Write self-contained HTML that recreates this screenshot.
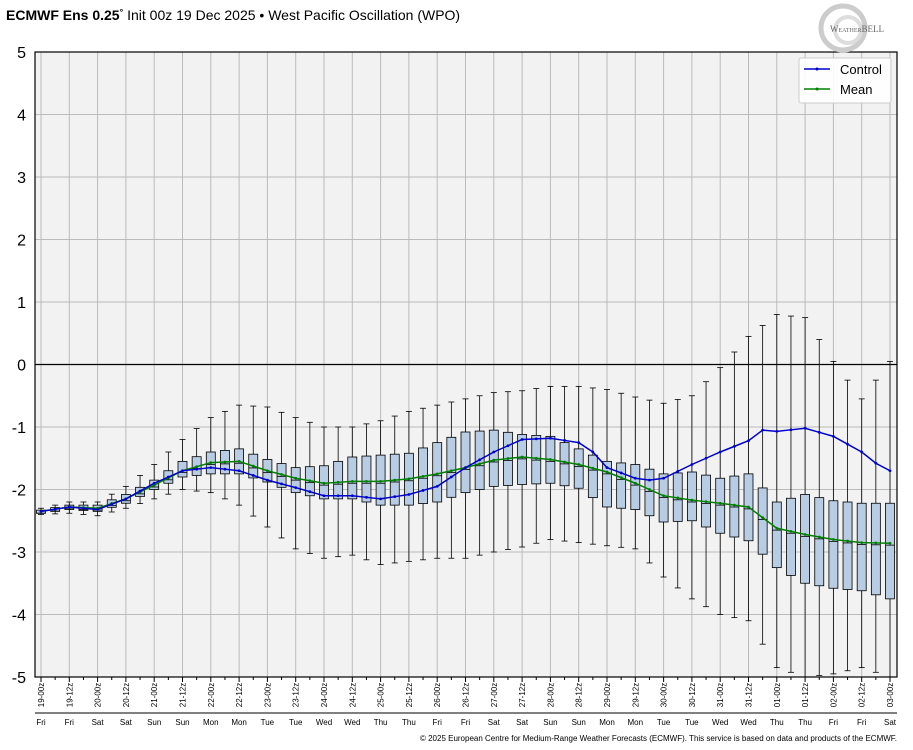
<!DOCTYPE html>
<html><head><meta charset="utf-8"><style>
body{margin:0;background:#fff;}
svg{display:block;font-family:"Liberation Sans",sans-serif;}
</style></head><body>
<svg id="s" width="913" height="750" xmlns="http://www.w3.org/2000/svg"></svg>
<script>
const S=document.getElementById('s');
let h='';
const L=35,R=897,T=52,B=677;
const X=i=>41+i*14.15, Y=v=>364.5-v*62.5;
h+=`<text x="6" y="20" font-size="14" font-weight="bold">ECMWF Ens 0.25<tspan font-size="9" dy="-5">°</tspan><tspan dy="5" font-weight="normal"> Init 00z 19 Dec 2025 • West Pacific Oscillation (WPO)</tspan></text>`;
h+=`<rect x="${L}" y="${T}" width="${R-L}" height="${B-T}" fill="#f2f2f2" stroke="none"/>`;
for(let v=-5;v<=5;v++){h+=`<line x1="${L}" x2="${R}" y1="${Y(v)}" y2="${Y(v)}" stroke="#bbb" stroke-width="1"/>`;
h+=`<text x="26" y="${Y(v)+6}" font-size="16" text-anchor="end">${v}</text>`;}
const days=['Fri','Sat','Sun','Mon','Tue','Wed','Thu','Fri','Sat','Sun','Mon','Tue','Wed','Thu','Fri','Sat'];
const dn=[19,20,21,22,23,24,25,26,27,28,29,30,31,1,2,3];
for(let k=0;k<=30;k++){const x=X(2*k);
h+=`<line x1="${x}" x2="${x}" y1="${T}" y2="${B}" stroke="#bbb"/>`;
h+=`<line x1="${x}" x2="${x}" y1="${B}" y2="${B+5}" stroke="#000"/>`;
if(k<30)h+=`<line x1="${X(2*k+1)}" x2="${X(2*k+1)}" y1="${B}" y2="${B+3}" stroke="#000"/>`;
const d=dn[Math.floor(k/2)];const lab=String(d).padStart(2,'0')+'-'+(k%2?'12':'00')+'z';
h+=`<text transform="translate(${x+3},695) rotate(-90)" font-size="8" text-anchor="middle">${lab}</text>`;
h+=`<text x="${x}" y="725" font-size="8" text-anchor="middle">${days[Math.floor(k/2)]}</text>`;}
h+=`<line x1="${L}" x2="${R}" y1="713" y2="713" stroke="#000"/>`;
h+=`<line x1="${L}" x2="${R}" y1="${Y(0)}" y2="${Y(0)}" stroke="#000" stroke-width="1.2"/>`;
const q3=[-2.33,-2.25,-2.25,-2.08,-1.85,-1.55,-1.4,-1.35,-1.52,-1.65,-1.62,-1.48,-1.45,-1.42,-1.25,-1.08,-1.05,-1.12,-1.15,-1.35,-1.55,-1.6,-1.75,-1.72,-1.82,-1.75,-2.2,-2.08,-2.18,-2.22,-2.22];
const q1=[-2.38,-2.32,-2.35,-2.22,-2.0,-1.8,-1.75,-1.75,-1.88,-2.05,-2.15,-2.15,-2.25,-2.25,-2.2,-2.05,-1.95,-1.92,-1.9,-1.98,-2.28,-2.32,-2.52,-2.5,-2.7,-2.82,-3.25,-3.5,-3.58,-3.62,-3.75];
const mx=[-2.3,-2.2,-2.2,-1.95,-1.6,-1.2,-0.85,-0.65,-0.68,-0.85,-1.0,-1.0,-0.9,-0.75,-0.65,-0.55,-0.45,-0.42,-0.35,-0.35,-0.4,-0.52,-0.62,-0.5,-0.05,0.45,0.8,0.75,0.05,-0.55,0.05];
const mn=[-2.4,-2.38,-2.42,-2.3,-2.15,-2.0,-2.05,-2.25,-2.6,-2.95,-3.1,-3.05,-3.2,-3.15,-3.1,-3.1,-3.0,-2.92,-2.8,-2.85,-2.9,-2.95,-3.4,-3.75,-4.0,-4.1,-4.85,-5,-4.95,-4.85,-5];
const me=[-2.35,-2.28,-2.3,-2.15,-1.93,-1.7,-1.57,-1.55,-1.7,-1.82,-1.9,-1.87,-1.87,-1.83,-1.75,-1.65,-1.53,-1.48,-1.52,-1.6,-1.72,-1.9,-2.1,-2.17,-2.22,-2.28,-2.62,-2.72,-2.8,-2.85,-2.86];
const co=[-2.35,-2.28,-2.32,-2.15,-1.9,-1.7,-1.65,-1.7,-1.85,-1.97,-2.1,-2.1,-2.15,-2.08,-1.95,-1.65,-1.4,-1.2,-1.18,-1.25,-1.65,-1.82,-1.82,-1.6,-1.4,-1.22,-1.07,-1.02,-1.15,-1.4,-1.7];
const I=(a,i)=>i%2?(a[(i-1)/2]+a[(i+1)/2])/2:a[i/2];
const ov={39:-1.4,43:-1.85,51:-1.05,59:-1.58};
const cp=[],mp=[];
for(let i=0;i<=60;i++){const x=X(i);
const a=I(mx,i),b=I(mn,i),c=I(q3,i),d=I(q1,i),m=I(me,i);
h+=`<line x1="${x}" x2="${x}" y1="${Y(a)}" y2="${Y(b)}" stroke="#000" stroke-width="0.8"/>`;
h+=`<line x1="${x-3}" x2="${x+3}" y1="${Y(a)}" y2="${Y(a)}" stroke="#000" stroke-width="0.8"/>`;
h+=`<line x1="${x-3}" x2="${x+3}" y1="${Y(b)}" y2="${Y(b)}" stroke="#000" stroke-width="0.8"/>`;
h+=`<rect x="${x-4.5}" y="${Y(c)}" width="9" height="${Math.max(1,Y(d)-Y(c))}" fill="#b8cce4" stroke="#000" stroke-width="0.8"/>`;
h+=`<line x1="${x-4.5}" x2="${x+4.5}" y1="${Y(m-0.03)}" y2="${Y(m-0.03)}" stroke="#000" stroke-width="0.8"/>`;
cp.push(x+','+Y(ov[i]!==undefined?ov[i]:I(co,i)));mp.push(x+','+Y(m));}
h+=`<polyline points="${mp.join(' ')}" fill="none" stroke="#008000" stroke-width="1.5"/>`;
h+=`<polyline points="${cp.join(' ')}" fill="none" stroke="#0000cc" stroke-width="1.5"/>`;
mp.forEach(p=>{const[x,y]=p.split(',');h+=`<circle cx="${x}" cy="${y}" r="1.4" fill="#008000"/>`});
cp.forEach(p=>{const[x,y]=p.split(',');h+=`<circle cx="${x}" cy="${y}" r="1.4" fill="#0000cc"/>`});
h+=`<rect x="${L}" y="${T}" width="${R-L}" height="${B-T}" fill="none" stroke="#000" stroke-width="1.2"/>`;
h+=`<rect x="799" y="58" width="92" height="45" fill="#fff" fill-opacity="0.9" stroke="#ccc" rx="2"/>`;
h+=`<line x1="804" x2="830" y1="69" y2="69" stroke="#0000cc" stroke-width="1.5"/><circle cx="817" cy="69" r="1.5" fill="#0000cc"/>`;
h+=`<text x="840" y="74" font-size="13">Control</text>`;
h+=`<line x1="804" x2="830" y1="89" y2="89" stroke="#008000" stroke-width="1.5"/><circle cx="817" cy="89" r="1.5" fill="#008000"/>`;
h+=`<text x="840" y="94" font-size="13">Mean</text>`;
h+=`<circle cx="843" cy="28" r="22" fill="none" stroke="#ccc" stroke-width="5"/><circle cx="848" cy="30" r="13" fill="none" stroke="#ddd" stroke-width="4"/>`;
h+=`<text x="830" y="32" font-size="9" fill="#666" font-family="Liberation Serif">W<tspan font-size="6">EATHER</tspan>BELL</text>`;
h+=`<text x="420" y="741" font-size="8" textLength="477" lengthAdjust="spacingAndGlyphs">© 2025 European Centre for Medium-Range Weather Forecasts (ECMWF). This service is based on data and products of the ECMWF.</text>`;
S.innerHTML=h;
</script>
</body></html>
